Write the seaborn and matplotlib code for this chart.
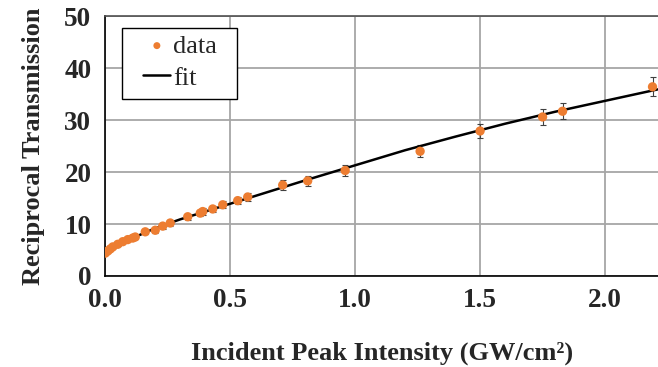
import matplotlib
matplotlib.use("Agg")
import matplotlib.pyplot as plt
from matplotlib.patches import Rectangle
import seaborn as sns
import pandas as pd

# data
intensity = [0.0, 0.01, 0.02, 0.03, 0.05, 0.07, 0.09, 0.11, 0.12, 0.16, 0.20, 0.23,
             0.26, 0.33, 0.38, 0.39, 0.43, 0.47, 0.53, 0.57, 0.71, 0.81, 0.96,
             1.26, 1.50, 1.75, 1.83, 2.19]
recip_T = [4.4, 4.8, 5.2, 5.6, 6.1, 6.6, 7.0, 7.3, 7.5, 8.5, 8.8, 9.6,
           10.2, 11.4, 12.1, 12.4, 12.9, 13.7, 14.5, 15.2, 17.5, 18.3, 20.3,
           24.0, 27.9, 30.6, 31.7, 36.4]
recip_err = [0.22, 0.24, 0.26, 0.28, 0.3, 0.33, 0.35, 0.37, 0.38, 0.43, 0.44, 0.48,
             0.51, 0.57, 0.6, 0.62, 0.65, 0.69, 0.73, 0.76, 0.88, 0.92, 1.0,
             1.2, 1.4, 1.53, 1.58, 1.8]

fit_x = [0.0, 0.02, 0.05, 0.1, 0.2, 0.3, 0.4, 0.5, 0.6, 0.8, 1.0, 1.2, 1.4, 1.6, 1.8, 2.0, 2.21]
fit_y = [4.2, 5.0, 5.8, 7.1, 9.2, 10.9, 12.4, 13.9, 15.4, 18.4, 21.3, 24.2, 26.8, 29.3, 31.6, 33.7, 35.9]

xticks = [0.0, 0.5, 1.0, 1.5, 2.0]
yticks = [0, 10, 20, 30, 40, 50]

df = pd.DataFrame({"x": intensity, "y": recip_T, "err": recip_err})
fit_df = pd.DataFrame({"x": fit_x, "y": fit_y})

sns.set_style("white")
plt.rcParams["font.family"] = ["Liberation Serif", "DejaVu Serif"]

fig = plt.figure(figsize=(6.58, 3.67), dpi=100)
ax = fig.add_axes([0.16, 0.248, 0.84, 0.708])

orange = "#ED7D31"
ax.errorbar(df["x"], df["y"], yerr=df["err"], fmt="none", ecolor="#404040",
            elinewidth=0.8, capsize=2.2, capthick=0.8, zorder=2)
sns.lineplot(data=fit_df, x="x", y="y", ax=ax, color="black", linewidth=1.8,
             label="fit", zorder=3)
sns.scatterplot(data=df, x="x", y="y", ax=ax, color=orange, s=45,
                edgecolor="none", label="data", zorder=4)

ax.set_xlim(0, 2.212)
ax.set_ylim(0, 50)
ax.set_xticks(xticks)
ax.set_xticklabels([f"{t:.1f}" for t in xticks])
ax.set_yticks(yticks)
ax.set_yticklabels([str(t) for t in yticks])

ax.grid(True, color="#A6A6A6", linewidth=1.3)
ax.set_axisbelow(True)

for side in ["left", "bottom"]:
    ax.spines[side].set_color("black")
    ax.spines[side].set_linewidth(1.2)
ax.spines["top"].set_color("#505050")
ax.spines["top"].set_linewidth(1.2)
ax.spines["right"].set_visible(False)

ax.tick_params(axis="both", which="major", labelsize=19.5, length=5, width=1,
               color="black", direction="out", pad=5)
ax.tick_params(axis="x", direction="inout", length=8)
for lab in ax.get_xticklabels() + ax.get_yticklabels():
    lab.set_fontweight("bold")

ax.set_xlabel("Incident Peak Intensity (GW/cm²)", fontsize=19,
              fontweight="bold", labelpad=20)
ax.set_ylabel("Reciprocal Transmission", fontsize=19, fontweight="bold", labelpad=14)

# legend box (white, black frame) hiding the grid behind it
ax.add_patch(Rectangle((0.0307, 0.681), 0.208, 0.273, transform=ax.transAxes,
                       facecolor="white", edgecolor="black", linewidth=1.0,
                       zorder=4.5, clip_on=False))

handles, labels = ax.get_legend_handles_labels()
order = [labels.index("data"), labels.index("fit")]
leg = ax.legend([handles[i] for i in order], [labels[i] for i in order],
                loc="upper left", bbox_to_anchor=(0.069, 0.931), borderaxespad=0,
                frameon=False, prop={"size": 19}, handlelength=1.02,
                handletextpad=0.1, borderpad=0, labelspacing=0.33,
                markerscale=0.75)
leg.set_zorder(5)

fig.savefig("out.png", dpi=100)
